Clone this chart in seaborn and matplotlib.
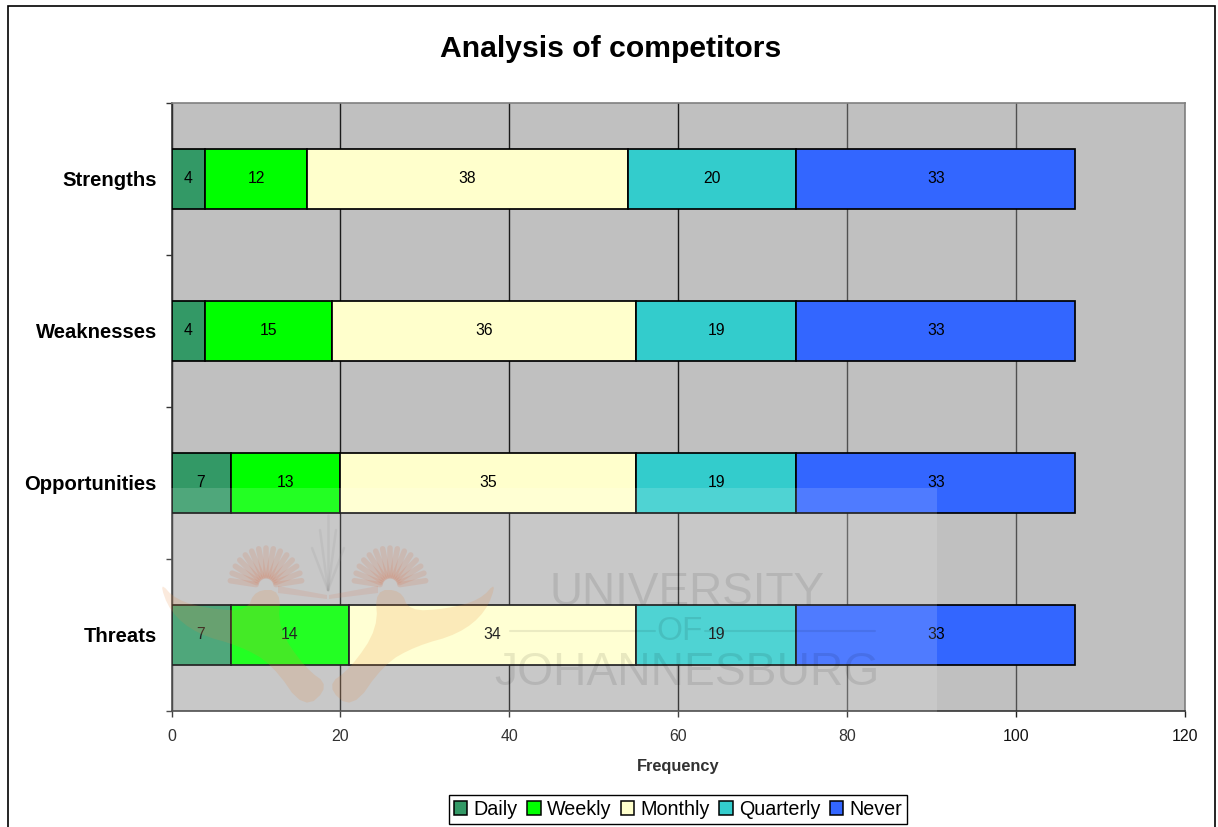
import numpy as np
import pandas as pd
import matplotlib
matplotlib.use("Agg")
import matplotlib.pyplot as plt
from matplotlib.patches import Rectangle, Polygon
import seaborn as sns

# Survey responses per SWOT area
areas = ["Strengths", "Weaknesses", "Opportunities", "Threats"]
daily = [4, 4, 7, 7]
weekly = [12, 15, 13, 14]
monthly = [38, 36, 35, 34]
quarterly = [20, 19, 19, 19]
never = [33, 33, 33, 33]

series_names = ["Daily", "Weekly", "Monthly", "Quarterly", "Never"]
series_values = [daily, weekly, monthly, quarterly, never]
series_colors = ["#339966", "#00FF00", "#FFFFCC", "#33CCCC", "#3366FF"]
x_ticks = [0, 20, 40, 60, 80, 100, 120]

W, H = 1218, 827

sns.set_theme(style="white")
plt.rcParams["font.family"] = ["Liberation Sans", "DejaVu Sans"]
plt.rcParams["text.color"] = "black"

fig = plt.figure(figsize=(W / 100, H / 100), dpi=100, facecolor="white")
ax = fig.add_axes([171.5 / W, 1 - 711 / H, (1185 - 171.5) / W, (711 - 102.5) / H])
ax.set_facecolor("#C0C0C0")

# Stacked horizontal bars, each segment starting where the previous one ended
table = pd.DataFrame(dict(zip(series_names, series_values)), index=areas)
running = np.zeros(len(areas))
for name, color in zip(series_names, series_colors):
    sns.barplot(
        x=table[name].to_numpy(), y=areas, order=areas, orient="y", left=running,
        color=color, saturation=1, width=0.395, edgecolor="black", linewidth=1.25,
        errorbar=None, label=name, ax=ax, zorder=3,
    )
    ax.bar_label(ax.containers[-1], label_type="center", fontsize=11.3, color="black")
    running = running + table[name].to_numpy()

ax.set_xlim(0, 120)
ax.set_ylim(3.5, -0.5)
ax.set_xticks(x_ticks)
ax.xaxis.grid(True, color="#1A1A1A", linewidth=1)
ax.yaxis.grid(False)
ax.set_axisbelow(True)
for line, tick_value in zip(ax.get_xgridlines(), x_ticks):
    if tick_value >= 80:
        line.set_color("#505050")

# Ticks mark the category boundaries, labels sit at the band centres
ax.set_yticks(np.arange(-0.5, 4.0, 1.0))
ax.set_yticklabels([])
ax.set_yticks(range(len(areas)), labels=areas, minor=True)
ax.tick_params(axis="y", which="minor", length=0, pad=10.5, labelsize=14.6)
ax.tick_params(axis="y", which="major", left=True, length=4.5, width=1, color="#333333")
ax.tick_params(axis="x", bottom=True, length=4.5, width=1, color="#222222",
               labelsize=11.4, pad=8.5, labelcolor="#111111")
for label in ax.get_yticklabels(minor=True):
    label.set_fontweight("bold")
    label.set_color("black")

ax.set_xlabel("Frequency", fontsize=11.8, fontweight="bold", color="#111111", labelpad=11)
ax.set_ylabel("")

for side, color in {"left": "#333333", "bottom": "#333333", "top": "#808080", "right": "#808080"}.items():
    ax.spines[side].set_visible(True)
    ax.spines[side].set_color(color)
    ax.spines[side].set_linewidth(1.2)

fig.text(611 / W, 1 - 49 / H, "Analysis of competitors", ha="center", va="center",
         fontsize=21.7, fontweight="bold", color="black")

handles, labels = ax.get_legend_handles_labels()
legend = ax.legend(
    handles, labels, ncol=5, loc="center", bbox_to_anchor=(678 / W, 1 - 809.5 / H),
    bbox_transform=fig.transFigure, frameon=True, fancybox=False, framealpha=1,
    edgecolor="black", facecolor="white", fontsize=14.2, labelcolor="black",
    handlelength=0.68, handleheight=0.68, handletextpad=0.3, columnspacing=0.5,
    borderpad=0.25, borderaxespad=0,
)
legend.get_frame().set_linewidth(1)
for patch in legend.get_patches():
    patch.set_edgecolor("black")
    patch.set_linewidth(1.1)

# Page overlay in pixel coordinates: outer frame and university watermark
page = fig.add_axes([0, 0, 1, 1], zorder=5)
page.set_xlim(0, W)
page.set_ylim(H, 0)
page.axis("off")
page.patch.set_alpha(0)

page.plot([7.5, 7.5, 1215, 1215], [H + 5, 5.5, 5.5, H + 5], color="black", linewidth=1.2,
          solid_joinstyle="miter")

page.add_patch(Rectangle((160, 488), 777, 292, facecolor="white", alpha=0.14, edgecolor="none"))


def mirror(points, axis=328):
    return [(2 * axis - x, y) for x, y in points]


def soften(points, rounds=2):
    # Chaikin corner cutting for the closed watermark outlines
    pts = np.asarray(points, dtype=float)
    for _ in range(rounds):
        nxt = np.roll(pts, -1, axis=0)
        pts = np.column_stack([0.75 * pts + 0.25 * nxt, 0.25 * pts + 0.75 * nxt]).reshape(-1, 2)
    return pts


wing = [(159, 581), (176, 600), (210, 609), (247, 611), (255, 590), (281, 590), (278, 628),
        (305, 668), (330, 686), (304, 710), (272, 664), (240, 646), (197, 634), (170, 612)]
beak = [(278, 586), (327, 595), (327, 599), (278, 593)]
for shape in (wing, mirror(wing)):
    page.add_patch(Polygon(soften(shape), closed=True, facecolor="#E8883A", alpha=0.17, edgecolor="none"))
for shape in (beak, mirror(beak)):
    page.add_patch(Polygon(shape, closed=True, facecolor="#D9704A", alpha=0.14, edgecolor="none"))

# Crest feathers fan out above each head
for cx in (266, 390):
    for angle in np.linspace(172, 8, 15):
        rad = np.deg2rad(angle)
        page.plot([cx + 10 * np.cos(rad), cx + 36 * np.cos(rad)],
                  [586 - 10 * np.sin(rad), 586 - 38 * np.sin(rad)],
                  color="#D9704A", alpha=0.17, linewidth=4, solid_capstyle="round")

# Open book rays between the birds
for tip_x, tip_y in [(328, 515), (320, 530), (336, 530), (312, 548), (344, 548)]:
    page.plot([328, tip_x], [590, tip_y], color="#909090", alpha=0.15, linewidth=1.8)

for text, x, y, size in [("UNIVERSITY", 687, 593, 33), ("OF", 680, 631, 24),
                         ("JOHANNESBURG", 687, 673, 33.3)]:
    page.text(x, y, text, ha="center", va="center", fontsize=size, color="black", alpha=0.09)
page.plot([510, 655], [631, 631], color="black", alpha=0.08, linewidth=1.5)
page.plot([705, 875], [631, 631], color="black", alpha=0.08, linewidth=1.5)

fig.savefig("out.png", dpi=100)
